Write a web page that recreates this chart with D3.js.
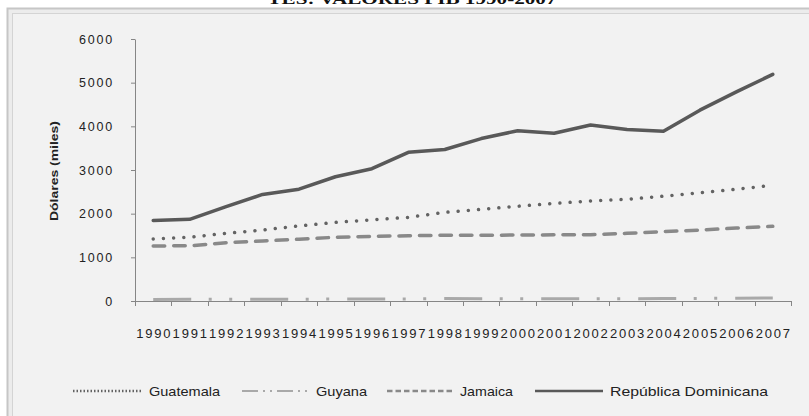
<!DOCTYPE html>
<html>
<head>
<meta charset="utf-8">
<script src="https://cdn.jsdelivr.net/npm/d3@7"></script>
<style>
  html, body { margin: 0; padding: 0; background: #ffffff; }
  svg { display: block; }
  .tick text { font-family: "Liberation Sans", Arial, sans-serif; }
</style>
</head>
<body>
<div id="chart"></div>
<script>
// PIB 1990-2007, miles de dólares
const years = ["1990","1991","1992","1993","1994","1995","1996","1997","1998",
  "1999","2000","2001","2002","2003","2004","2005","2006","2007"];
const guatemala = [1420, 1460, 1550, 1625, 1720, 1800, 1860, 1915, 2030,
  2100, 2170, 2235, 2290, 2330, 2400, 2480, 2560, 2650];
const guyana = [35, 38, 38, 40, 42, 44, 46, 48, 55,
  52, 50, 50, 50, 52, 55, 60, 65, 70];
const jamaica = [1260, 1265, 1335, 1375, 1415, 1460, 1480, 1495, 1505,
  1505, 1510, 1515, 1520, 1550, 1590, 1625, 1670, 1710];
const repDominicana = [1845, 1870, 2160, 2440, 2560, 2845, 3030, 3405, 3470,
  3720, 3900, 3840, 4030, 3930, 3885, 4370, 4790, 5190];
const yTicks = [0, 1000, 2000, 3000, 4000, 5000, 6000];

const seriesList = [
  { name: "Guatemala", values: guatemala, color: "#636363", width: 3.5, dash: "0.01 10.2", cap: "round" },
  { name: "Guyana", values: guyana, color: "#a9a9a9", width: 3, dash: "38 17.5 3 17.5 3 18", cap: "butt" },
  { name: "Jamaica", values: jamaica, color: "#898989", width: 3.5, dash: "11.5 9", cap: "round" },
  { name: "República Dominicana", values: repDominicana, color: "#595959", width: 3.5, dash: null, cap: "round" }
];

const width = 809, height = 416;
const svg = d3.select("#chart").append("svg")
  .attr("width", width)
  .attr("height", height);

// chart title, mostly cut off at the top (as in the source)
svg.append("text")
  .attr("x", 412).attr("y", 4)
  .attr("text-anchor", "middle")
  .attr("font-family", "Liberation Serif, Times New Roman, serif")
  .attr("font-weight", "bold")
  .attr("font-size", 15)
  .attr("textLength", 289)
  .attr("lengthAdjust", "spacingAndGlyphs")
  .attr("fill", "#111")
  .text("TES: VALORES PIB 1990-2007");

// chart area frame
svg.append("rect")
  .attr("x", 7.5).attr("y", 8.5)
  .attr("width", 820).attr("height", 430)
  .attr("fill", "#ececec")
  .attr("stroke", "#c6c6c6").attr("stroke-width", 2);
svg.append("rect")
  .attr("x", 12.5).attr("y", 13.5)
  .attr("width", 820).attr("height", 430)
  .attr("fill", "#f2f2f2")
  .attr("stroke", "#d4d4d4").attr("stroke-width", 1);

const x = d3.scaleBand().domain(years).range([135, 791]);
const y = d3.scaleLinear().domain([0, 6000]).range([301, 39]);
const cx = d => x(d) + x.bandwidth() / 2;

// y axis
const yAxis = svg.append("g")
  .attr("transform", "translate(135,0)")
  .call(d3.axisLeft(y).tickValues(yTicks).tickFormat(d3.format("d"))
    .tickSize(4).tickSizeOuter(0).tickPadding(17));
yAxis.select(".domain").attr("stroke", "#868686");
yAxis.selectAll(".tick line").attr("stroke", "#868686");
yAxis.selectAll(".tick text")
  .attr("font-size", 12.5)
  .attr("letter-spacing", 1.8)
  .attr("fill", "#222");

// x axis: labels centered on categories, ticks on the boundaries
const xAxis = svg.append("g")
  .attr("transform", "translate(0,301)")
  .call(d3.axisBottom(x).tickSize(0).tickPadding(28));
xAxis.select(".domain").remove();
xAxis.selectAll(".tick text")
  .attr("font-size", 13)
  .attr("letter-spacing", 1.8)
  .attr("dx", 1)
  .attr("fill", "#222");

svg.append("line")
  .attr("x1", 131).attr("x2", 791)
  .attr("y1", 301.5).attr("y2", 301.5)
  .attr("stroke", "#868686");
const bounds = years.map(d => x(d)).concat([x.range()[1]]);
svg.append("g").selectAll("line")
  .data(bounds)
  .join("line")
  .attr("x1", d => Math.round(d) + 0.5).attr("x2", d => Math.round(d) + 0.5)
  .attr("y1", 301).attr("y2", 306)
  .attr("stroke", "#868686");

// y axis title
svg.append("text")
  .attr("transform", "translate(58,171) rotate(-90)")
  .attr("text-anchor", "middle")
  .attr("font-family", "Liberation Sans, Arial, sans-serif")
  .attr("font-weight", "bold")
  .attr("font-size", 11.5)
  .attr("textLength", 100)
  .attr("lengthAdjust", "spacingAndGlyphs")
  .attr("fill", "#222")
  .text("Dólares (miles)");

// series lines
const line = d3.line()
  .x((v, i) => cx(years[i]))
  .y(v => y(v));

svg.append("g").selectAll("path")
  .data(seriesList)
  .join("path")
  .attr("d", s => line(s.values))
  .attr("fill", "none")
  .attr("stroke", s => s.color)
  .attr("stroke-width", s => s.width)
  .attr("stroke-linecap", s => s.cap)
  .attr("stroke-linejoin", "round")
  .attr("stroke-dasharray", s => s.dash);

// legend
const legendPos = [
  { lx: 73, tx: 149, tw: 71 },
  { lx: 242, tx: 316, tw: 51 },
  { lx: 387, tx: 460, tw: 53 },
  { lx: 535, tx: 610, tw: 158 }
];
const legend = svg.append("g").selectAll("g")
  .data(seriesList)
  .join("g");
legend.append("line")
  .attr("x1", (s, i) => legendPos[i].lx)
  .attr("x2", (s, i) => legendPos[i].lx + 68)
  .attr("y1", 391).attr("y2", 391)
  .attr("stroke", s => s.color)
  .attr("stroke-width", s => s.width - 1)
  .attr("stroke-linecap", "butt")
  .attr("stroke-dasharray", (s, i) => ["1.5 2", "16 5 2 5 2 5", "5.5 3", null][i]);
legend.append("text")
  .attr("x", (s, i) => legendPos[i].tx)
  .attr("y", 396)
  .attr("font-family", "Liberation Sans, Arial, sans-serif")
  .attr("font-size", 13)
  .attr("textLength", (s, i) => legendPos[i].tw)
  .attr("lengthAdjust", "spacingAndGlyphs")
  .attr("fill", "#222")
  .text(s => s.name);
</script>
</body>
</html>
